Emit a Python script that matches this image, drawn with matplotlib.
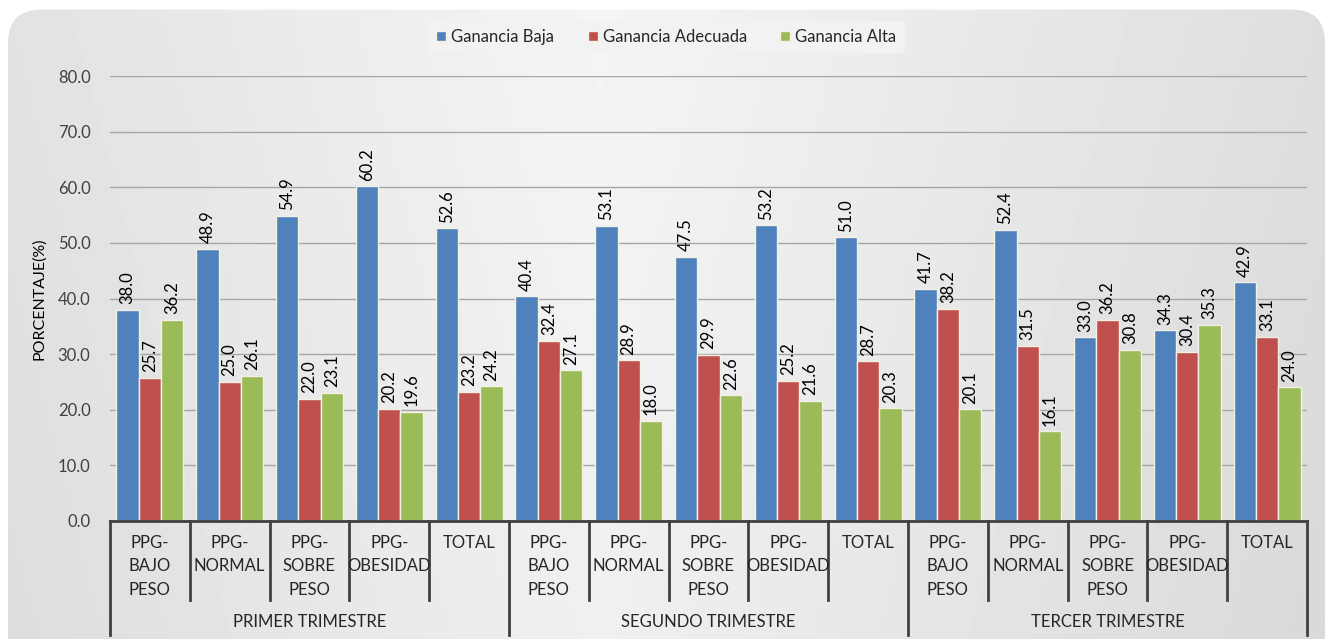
import matplotlib
matplotlib.use("Agg")
import matplotlib.pyplot as plt
import numpy as np
from matplotlib.patches import FancyBboxPatch

plt.rcParams['font.family'] = ['Lato', 'DejaVu Sans']

categories = ["PPG-\nBAJO\nPESO", "PPG-\nNORMAL", "PPG-\nSOBRE\nPESO", "PPG-\nOBESIDAD", "TOTAL"] * 3
groups = ["PRIMER TRIMESTRE", "SEGUNDO TRIMESTRE", "TERCER TRIMESTRE"]
series_names = ["Ganancia Baja", "Ganancia Adecuada", "Ganancia Alta"]
baja = [38.0, 48.9, 54.9, 60.2, 52.6, 40.4, 53.1, 47.5, 53.2, 51.0, 41.7, 52.4, 33.0, 34.3, 42.9]
adecuada = [25.7, 25.0, 22.0, 20.2, 23.2, 32.4, 28.9, 29.9, 25.2, 28.7, 38.2, 31.5, 36.2, 30.4, 33.1]
alta = [36.2, 26.1, 23.1, 19.6, 24.2, 27.1, 18.0, 22.6, 21.6, 20.3, 20.1, 16.1, 30.8, 35.3, 24.0]
yticks = [0, 10, 20, 30, 40, 50, 60, 70, 80]

colors = ["#4F81BD", "#C0504D", "#9BBB59"]

fig = plt.figure(figsize=(13.33, 6.39), dpi=100)
fig.patch.set_facecolor("white")

# background rounded panel with gradient
bg = fig.add_axes([0, 0, 1, 1], zorder=-10)
bg.set_xlim(0, 1); bg.set_ylim(0, 1); bg.axis("off")
patch = FancyBboxPatch((0.006, -0.05), 0.988, 1.035, boxstyle="round,pad=0,rounding_size=0.025",
                       transform=bg.transAxes, facecolor="none", edgecolor="none",
                       mutation_aspect=1333/639)
bg.add_patch(patch)
gx = np.linspace(0, 1, 400)
gy = np.linspace(0, 1, 200)
X, Y = np.meshgrid(gx, gy)
val = 0.85 + 0.09 * np.clip(1 - np.abs(X - 0.45) / 0.55, 0, 1) + 0.02 * Y
img = bg.imshow(val, extent=[0, 1, 0, 1], origin="lower", cmap="gray", vmin=0, vmax=1,
                aspect="auto", transform=bg.transAxes)
img.set_clip_path(patch)

ax = fig.add_axes([0.0825, 0.1847, 0.898, 0.6963])
ax.set_facecolor("none")
x = np.arange(len(baja))
w = 0.28
for i, (vals, c, name) in enumerate(zip([baja, adecuada, alta], colors, series_names)):
    pos = x + (i - 1) * w
    ax.bar(pos, vals, width=w, color=c, edgecolor="#f4f1e4", linewidth=1.0, label=name, zorder=3)
    for p, v in zip(pos, vals):
        ax.annotate(f"{v:.1f}", (p, v), xytext=(0, 4), textcoords="offset points",
                    rotation=90, ha="center", va="bottom", fontsize=12, color="black", zorder=4)

ax.set_xlim(-0.5, len(baja) - 0.5)
ax.set_ylim(0, 80)
ax.set_yticks(yticks)
ax.set_yticklabels([f"{t:.1f}" for t in yticks], fontsize=12, color="#404040")
ax.yaxis.grid(True, color="#a6a6a6", linewidth=1.0, zorder=0)
ax.set_axisbelow(True)
ax.tick_params(axis="y", length=0, pad=14)
ax.tick_params(axis="x", length=0, labelbottom=False)
for s in ["top", "right", "left"]:
    ax.spines[s].set_visible(False)
ax.spines["bottom"].set_color("#404040")
ax.spines["bottom"].set_linewidth(2)
ax.spines["bottom"].set_zorder(5)
ax.set_ylabel("PORCENTAJE(%)", fontsize=11.5, color="black", labelpad=8)

trans = ax.get_xaxis_transform()
n = len(baja)
for k in range(n + 1):
    xb = k - 0.5
    bottom = -0.256 if k % 5 == 0 else -0.178
    ax.plot([xb, xb], [0, bottom], transform=trans, color="#404040", lw=2, clip_on=False)
for k, lab in enumerate(categories):
    ax.text(k, -0.031, lab, transform=trans, ha="center", va="top", fontsize=12,
            color="#262626", linespacing=1.58)
for g, lab in enumerate(groups):
    ax.text(g * 5 + 2, -0.227, lab, transform=trans, ha="center", va="center",
            fontsize=12, color="#262626")

leg = fig.legend(loc="center", bbox_to_anchor=(0.5, 0.942), ncol=3, frameon=True,
                 fontsize=12, handlelength=0.6, handleheight=0.6, handletextpad=0.3,
                 columnspacing=2.0, borderpad=0.5)
leg.get_frame().set_facecolor("#f2f2f2")
leg.get_frame().set_edgecolor("none")
leg.get_frame().set_alpha(1)
for t in leg.get_texts():
    t.set_color("#262626")

fig.savefig("out.png", dpi=100)
